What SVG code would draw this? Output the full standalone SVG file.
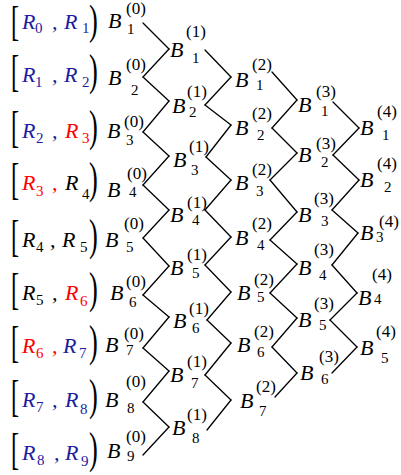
<svg xmlns="http://www.w3.org/2000/svg" width="401" height="475" viewBox="0 0 401 475" font-family="'Liberation Serif', 'Times New Roman', serif">
<style>
text{font-family:'Liberation Serif','Times New Roman',serif;fill:#000}
.B,.R{font-size:22px;font-style:italic}
.sp{font-size:17px}
.sb{font-size:15px}
.br{font-size:44px}
.bl{fill:#1c1ca0}
.rd{fill:#ff0000}
#connectors line{stroke:#000;stroke-width:1.3;stroke-linecap:round}
</style>
<rect width="401" height="475" fill="#fff"/>
<g id="labels">
<g id="row1"><text class="br" transform="translate(11,35) scale(0.55,0.96)">[</text><text class="R bl" x="22" y="29">R</text><text class="sb bl" x="35" y="33">0</text><text class="R bl" x="52" y="29">,</text><text class="R bl" x="64" y="29">R</text><text class="sb bl" x="82" y="33">1</text><text class="br" transform="translate(89,34) scale(0.6,0.96)">)</text></g>
<g id="row2"><text class="br" transform="translate(11,86) scale(0.55,1)">[</text><text class="R bl" x="22" y="82">R</text><text class="sb bl" x="35" y="87">1</text><text class="R bl" x="52" y="82">,</text><text class="R bl" x="64" y="82">R</text><text class="sb bl" x="82" y="87">2</text><text class="br" transform="translate(89,85) scale(0.6,1)">)</text></g>
<g id="row3"><text class="br" transform="translate(11,142) scale(0.55,1)">[</text><text class="R bl" x="22" y="138">R</text><text class="sb bl" x="36" y="143">2</text><text class="R bl" x="52" y="138">,</text><text class="R rd" x="65" y="138">R</text><text class="sb rd" x="82" y="143">3</text><text class="br" transform="translate(89,141) scale(0.6,1)">)</text></g>
<g id="row4"><text class="br" transform="translate(11,194) scale(0.55,1)">[</text><text class="R rd" x="22" y="190">R</text><text class="sb rd" x="36" y="196">3</text><text class="R rd" x="52" y="190">,</text><text class="R" x="65" y="190">R</text><text class="sb" x="82" y="199">4</text><text class="br" transform="translate(89,193) scale(0.6,1)">)</text></g>
<g id="row5"><text class="br" transform="translate(11,251) scale(0.55,1)">[</text><text class="R" x="22" y="247">R</text><text class="sb" x="36" y="252">4</text><text class="R" x="50" y="247">,</text><text class="R" x="62" y="247">R</text><text class="sb" x="80" y="252">5</text><text class="br" transform="translate(89,250) scale(0.6,1)">)</text></g>
<g id="row6"><text class="br" transform="translate(11,304) scale(0.55,1)">[</text><text class="R" x="22" y="300">R</text><text class="sb" x="36" y="305">5</text><text class="R" x="52" y="300">,</text><text class="R rd" x="65" y="300">R</text><text class="sb rd" x="80" y="306">6</text><text class="br" transform="translate(89,303) scale(0.6,1)">)</text></g>
<g id="row7"><text class="br" transform="translate(11,357) scale(0.55,1)">[</text><text class="R rd" x="22" y="353">R</text><text class="sb rd" x="36" y="358">6</text><text class="R rd" x="52" y="353">,</text><text class="R bl" x="63" y="353">R</text><text class="sb bl" x="79" y="358">7</text><text class="br" transform="translate(89,356) scale(0.6,1)">)</text></g>
<g id="row8"><text class="br" transform="translate(11,411) scale(0.55,1)">[</text><text class="R bl" x="22" y="407">R</text><text class="sb bl" x="36" y="412">7</text><text class="R bl" x="52" y="407">,</text><text class="R bl" x="65" y="407">R</text><text class="sb bl" x="80" y="414">8</text><text class="br" transform="translate(89,410) scale(0.6,1)">)</text></g>
<g id="row9"><text class="br" transform="translate(11,464) scale(0.55,1)">[</text><text class="R bl" x="22" y="460">R</text><text class="sb bl" x="37" y="465">8</text><text class="R bl" x="54" y="460">,</text><text class="R bl" x="65" y="460">R</text><text class="sb bl" x="81" y="466">9</text><text class="br" transform="translate(89,463) scale(0.6,1)">)</text></g>
</g>
<g id="connectors">
<line x1="143" y1="23" x2="169" y2="49"/>
<line x1="143" y1="77" x2="169" y2="49"/><line x1="143" y1="77" x2="169" y2="101"/>
<line x1="143" y1="132" x2="169" y2="101"/><line x1="143" y1="132" x2="169" y2="156"/>
<line x1="143" y1="185" x2="169" y2="156"/><line x1="143" y1="185" x2="169" y2="210"/>
<line x1="143" y1="238" x2="169" y2="210"/><line x1="143" y1="238" x2="169" y2="266"/>
<line x1="143" y1="295" x2="169" y2="266"/><line x1="143" y1="295" x2="169" y2="317"/>
<line x1="143" y1="348" x2="169" y2="317"/><line x1="143" y1="348" x2="169" y2="371"/>
<line x1="143" y1="402" x2="169" y2="371"/><line x1="143" y1="402" x2="169" y2="427"/>
<line x1="143" y1="455" x2="169" y2="427"/>
<line x1="205" y1="50" x2="231" y2="77"/>
<line x1="205" y1="105" x2="231" y2="77"/><line x1="205" y1="105" x2="231" y2="125"/>
<line x1="206" y1="157" x2="231" y2="125"/><line x1="206" y1="157" x2="231" y2="180"/>
<line x1="205" y1="210" x2="231" y2="180"/><line x1="205" y1="210" x2="231" y2="237"/>
<line x1="205" y1="265" x2="231" y2="237"/><line x1="205" y1="265" x2="231" y2="292"/>
<line x1="207" y1="320" x2="231" y2="292"/><line x1="207" y1="320" x2="231" y2="343"/>
<line x1="205" y1="375" x2="231" y2="343"/><line x1="205" y1="375" x2="231" y2="400"/>
<line x1="207" y1="430" x2="231" y2="400"/>
<line x1="272" y1="72" x2="297" y2="100"/>
<line x1="272" y1="128" x2="297" y2="100"/><line x1="272" y1="128" x2="297" y2="153"/>
<line x1="270" y1="180" x2="297" y2="153"/><line x1="270" y1="180" x2="297" y2="212"/>
<line x1="270" y1="240" x2="297" y2="212"/><line x1="270" y1="240" x2="297" y2="264"/>
<line x1="270" y1="293" x2="297" y2="264"/><line x1="270" y1="293" x2="297" y2="318"/>
<line x1="272" y1="347" x2="297" y2="318"/><line x1="272" y1="347" x2="297" y2="373"/>
<line x1="275" y1="397" x2="297" y2="373"/>
<line x1="333" y1="102" x2="359" y2="128"/>
<line x1="333" y1="155" x2="359" y2="128"/><line x1="333" y1="155" x2="359" y2="180"/>
<line x1="332" y1="210" x2="359" y2="180"/><line x1="332" y1="210" x2="358" y2="233"/>
<line x1="332" y1="265" x2="358" y2="233"/><line x1="332" y1="265" x2="357" y2="293"/>
<line x1="330" y1="320" x2="357" y2="293"/><line x1="330" y1="320" x2="357" y2="347"/>
<line x1="332" y1="373" x2="357" y2="347"/>
</g>
<g id="nodes">
<g id="B0_1"><text class="B" x="108" y="28">B</text><text class="sp" x="126" y="14">(0)</text><text class="sb" x="127" y="34">1</text></g>
<g id="B0_2"><text class="B" x="108" y="85">B</text><text class="sp" x="126" y="70">(0)</text><text class="sb" x="131" y="95">2</text></g>
<g id="B0_3"><text class="B" x="107" y="138">B</text><text class="sp" x="124" y="127">(0)</text><text class="sb" x="126" y="145">3</text></g>
<g id="B0_4"><text class="B" x="107" y="197">B</text><text class="sp" x="127" y="179">(0)</text><text class="sb" x="129" y="197">4</text></g>
<g id="B0_5"><text class="B" x="105" y="247">B</text><text class="sp" x="124" y="229">(0)</text><text class="sb" x="126" y="252">5</text></g>
<g id="B0_6"><text class="B" x="110" y="300">B</text><text class="sp" x="126" y="287">(0)</text><text class="sb" x="129" y="307">6</text></g>
<g id="B0_7"><text class="B" x="105" y="352">B</text><text class="sp" x="124" y="339">(0)</text><text class="sb" x="126" y="355">7</text></g>
<g id="B0_8"><text class="B" x="105" y="407">B</text><text class="sp" x="126" y="387">(0)</text><text class="sb" x="127" y="413">8</text></g>
<g id="B0_9"><text class="B" x="107" y="458">B</text><text class="sp" x="126" y="442">(0)</text><text class="sb" x="127" y="461">9</text></g>
<g id="B1_1"><text class="B" x="170" y="57">B</text><text class="sp" x="186" y="37">(1)</text><text class="sb" x="192" y="63">1</text></g>
<g id="B1_2"><text class="B" x="172" y="113">B</text><text class="sp" x="187" y="97">(1)</text><text class="sb" x="189" y="117">2</text></g>
<g id="B1_3"><text class="B" x="173" y="167">B</text><text class="sp" x="189" y="152">(1)</text><text class="sb" x="191" y="175">3</text></g>
<g id="B1_4"><text class="B" x="170" y="222">B</text><text class="sp" x="187" y="208">(1)</text><text class="sb" x="192" y="225">4</text></g>
<g id="B1_5"><text class="B" x="170" y="275">B</text><text class="sp" x="187" y="260">(1)</text><text class="sb" x="192" y="278">5</text></g>
<g id="B1_6"><text class="B" x="173" y="328">B</text><text class="sp" x="189" y="314">(1)</text><text class="sb" x="192" y="333">6</text></g>
<g id="B1_7"><text class="B" x="170" y="382">B</text><text class="sp" x="187" y="367">(1)</text><text class="sb" x="191" y="388">7</text></g>
<g id="B1_8"><text class="B" x="172" y="435">B</text><text class="sp" x="187" y="420">(1)</text><text class="sb" x="192" y="443">8</text></g>
<g id="B2_1"><text class="B" x="235" y="87">B</text><text class="sp" x="252" y="70">(2)</text><text class="sb" x="256" y="90">1</text></g>
<g id="B2_2"><text class="B" x="235" y="135">B</text><text class="sp" x="252" y="119">(2)</text><text class="sb" x="257" y="140">2</text></g>
<g id="B2_3"><text class="B" x="235" y="190">B</text><text class="sp" x="252" y="175">(2)</text><text class="sb" x="256" y="196">3</text></g>
<g id="B2_4"><text class="B" x="235" y="245">B</text><text class="sp" x="252" y="229">(2)</text><text class="sb" x="257" y="250">4</text></g>
<g id="B2_5"><text class="B" x="237" y="300">B</text><text class="sp" x="254" y="285">(2)</text><text class="sb" x="257" y="302">5</text></g>
<g id="B2_6"><text class="B" x="237" y="352">B</text><text class="sp" x="254" y="337">(2)</text><text class="sb" x="257" y="357">6</text></g>
<g id="B2_7"><text class="B" x="240" y="408">B</text><text class="sp" x="256" y="392">(2)</text><text class="sb" x="259" y="416">7</text></g>
<g id="B3_1"><text class="B" x="298" y="112">B</text><text class="sp" x="316" y="97">(3)</text><text class="sb" x="321" y="116">1</text></g>
<g id="B3_2"><text class="B" x="298" y="162">B</text><text class="sp" x="316" y="149">(3)</text><text class="sb" x="321" y="167">2</text></g>
<g id="B3_3"><text class="B" x="298" y="222">B</text><text class="sp" x="314" y="204">(3)</text><text class="sb" x="321" y="226">3</text></g>
<g id="B3_4"><text class="B" x="298" y="275">B</text><text class="sp" x="314" y="255">(3)</text><text class="sb" x="319" y="280">4</text></g>
<g id="B3_5"><text class="B" x="298" y="327">B</text><text class="sp" x="314" y="309">(3)</text><text class="sb" x="319" y="330">5</text></g>
<g id="B3_6"><text class="B" x="300" y="380">B</text><text class="sp" x="319" y="362">(3)</text><text class="sb" x="321" y="384">6</text></g>
<g id="B4_1"><text class="B" x="360" y="135">B</text><text class="sp" x="377" y="117">(4)</text><text class="sb" x="382" y="140">1</text></g>
<g id="B4_2"><text class="B" x="360" y="187">B</text><text class="sp" x="377" y="169">(4)</text><text class="sb" x="384" y="192">2</text></g>
<g id="B4_3"><text class="B" x="360" y="240">B</text><text class="sp" x="379" y="227">(4)</text><text class="sb" x="376" y="242">3</text></g>
<g id="B4_4"><text class="B" x="358" y="305">B</text><text class="sp" x="372" y="280">(4)</text><text class="sb" x="374" y="304">4</text></g>
<g id="B4_5"><text class="B" x="360" y="355">B</text><text class="sp" x="376" y="337">(4)</text><text class="sb" x="381" y="363">5</text></g>
</g>
</svg>
